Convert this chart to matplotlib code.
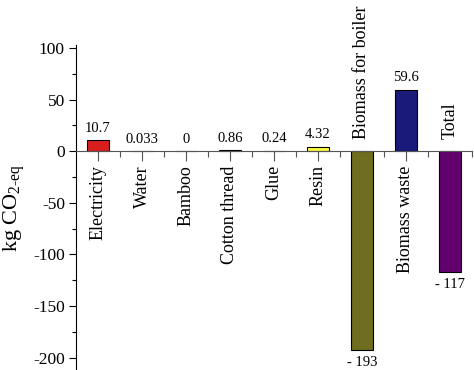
import matplotlib
matplotlib.use("Agg")
import matplotlib.pyplot as plt
from matplotlib.ticker import MultipleLocator, FixedLocator

plt.rcParams['mathtext.fontset'] = 'custom'
plt.rcParams['mathtext.rm'] = 'Liberation Serif'
plt.rcParams['axes.unicode_minus'] = False

# data
categories = ["Electricity", "Water", "Bamboo", "Cotton thread", "Glue", "Resin",
              "Biomass for boiler", "Biomass waste", "Total"]
values = [10.7, 0.033, 0, 0.86, 0.24, 4.32, -193, 59.6, -117]
value_labels = ["10.7", "0.033", "0", "0.86", "0.24", "4.32", "- 193", "59.6", "- 117"]
bar_colors = ["#d81e1e", "#3355bb", "#2e9e2e", "#222222", "#e07a20", "#ffff44",
              "#6e6e1e", "#1a1a7a", "#62006e"]

serif = "Liberation Serif"

fig = plt.figure(figsize=(4.74, 3.70), dpi=100)
ax = fig.add_axes([76 / 474, 0.0, 396 / 474, 325 / 370])

x = list(range(len(categories)))
ax.bar(x, values, width=0.5, color=bar_colors, edgecolor="black", linewidth=0.8, zorder=2)

ax.set_xlim(-0.5, len(categories) - 0.5)
ax.set_ylim(-212, 103)

# spines: left axis + zero line only
ax.spines['top'].set_visible(False)
ax.spines['right'].set_visible(False)
ax.spines['bottom'].set_position(('data', 0))
ax.spines['bottom'].set_color('#555555')
ax.spines['bottom'].set_zorder(3)

ax.xaxis.set_major_locator(FixedLocator(x))
ax.xaxis.set_minor_locator(FixedLocator([i + 0.5 for i in x]))
ax.tick_params(axis='x', which='major', direction='out', length=7, width=0.8,
               color='#555555', labelbottom=False)
ax.tick_params(axis='x', which='minor', direction='out', length=4, width=0.8, color='#555555')

ax.yaxis.set_major_locator(MultipleLocator(50))
ax.yaxis.set_minor_locator(MultipleLocator(25))
ax.tick_params(axis='y', which='major', direction='out', length=5, width=0.8,
               labelsize=12.5, pad=3)
ax.tick_params(axis='y', which='minor', direction='out', length=3, width=0.8)
for lab in ax.get_yticklabels():
    lab.set_fontfamily(serif)

# category labels, rotated; above the zero line for negative bars
for xi, cat, v in zip(x, categories, values):
    if v < 0:
        ax.annotate(cat, (xi, 0), xytext=(0, 9), textcoords='offset points',
                    rotation=90, ha='center', va='bottom', fontsize=13, family=serif)
    else:
        ax.annotate(cat, (xi, 0), xytext=(0, -10), textcoords='offset points',
                    rotation=90, ha='center', va='top', fontsize=13, family=serif)

# value labels
for xi, v, txt in zip(x, values, value_labels):
    if v < 0:
        ax.annotate(txt, (xi, v), xytext=(0, -4), textcoords='offset points',
                    ha='center', va='top', fontsize=10.5, family=serif)
    else:
        ax.annotate(txt, (xi, v), xytext=(0, 4), textcoords='offset points',
                    ha='center', va='bottom', fontsize=10.5, family=serif)

fig.text(15 / 474, 1 - 208 / 370, "kg CO$_{\\mathregular{2\u2010eq}}$", rotation=90,
         ha='center', va='center', fontsize=16, family=serif)

fig.savefig("out.png", dpi=100)
